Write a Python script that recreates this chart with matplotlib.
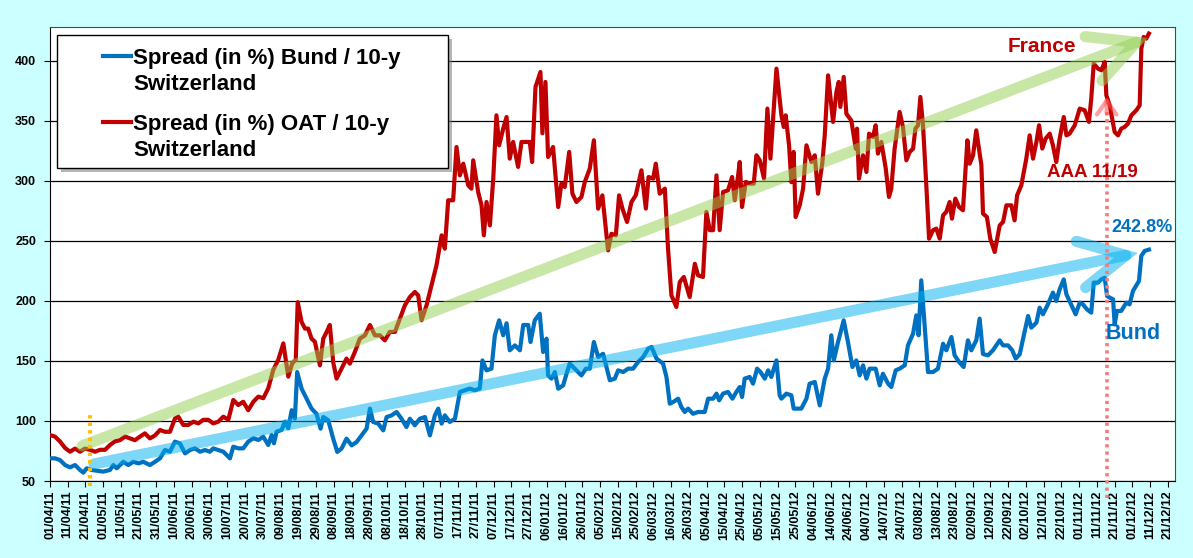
import numpy as np
import pandas as pd
import matplotlib
matplotlib.use("Agg")
import matplotlib.pyplot as plt
import matplotlib.dates as mdates
import matplotlib.transforms as mtransforms
from matplotlib.patches import FancyArrowPatch, Rectangle
from matplotlib.lines import Line2D

plt.rcParams["font.family"] = ["Liberation Sans", "DejaVu Sans"]

START = pd.Timestamp("2011-04-01")

# days since 01/04/11, spread values
oat_day = [0, 2.8, 5.6, 8.5, 11.3, 14.1, 16.9, 19.7, 22.5, 25.4, 28.2, 31, 33.8, 36.6, 39.4, 42.3,
           45.1, 47.9, 50.7, 53.5, 56.3, 59.2, 62, 64.8, 67.6, 70.4, 72.3, 75.1, 77.9, 80.8, 83.6,
           86.4, 89.2, 92, 94.8, 97.7, 100.5, 103.3, 106.1, 108.9, 111.7, 114.6, 117.4, 120.2, 123,
           125.8, 128.6, 131.5, 134.3, 136.5, 138.5, 139.6, 141.8, 143.7, 145.5, 147.4, 149.3, 152.1,
           154, 155.9, 157.7, 159.6, 161.5, 164.3, 167.1, 169, 171.8, 174.6, 177.5, 180.3, 183.1,
           185.9, 188.7, 191.5, 194.4, 197.2, 200, 202.8, 205.6, 207.5, 209.4, 212.2, 215, 217.8,
           220.7, 222.5, 224.4, 227.2, 229.1, 231, 232.9, 235.7, 237.5, 238.5, 241.3, 243.2, 244.5,
           246, 247.9, 249.8, 251.6, 253.1, 255.4, 257.3, 259.1, 261, 263.8, 265.7, 268.5, 270.4,
           271.7, 273.6, 276.4, 277.5, 279.2, 280.7, 283.5, 286.4, 288.2, 290.1, 292.6, 294.4,
           296.7, 299.5, 301.4, 304.2, 306.5, 308.9, 311.3, 314.5, 316.4, 318.9, 320.7, 322.6,
           325.2, 327.7, 330.1, 333.3, 335.8, 337.3, 339.9, 341.4, 343.6, 346.5, 348.3, 350.2, 353,
           354.9, 357.2, 360.5, 363.4, 365.2, 368, 369.9, 371.8, 373.7, 375.6, 377.4, 379.3, 382.1,
           384.4, 385.9, 387.8, 388.7, 390, 392.1, 394.3, 396.6, 398.1, 400, 402.4, 404.3, 406,
           409.4, 412.2, 413.5, 414.6, 416.5, 417.8, 419.1, 420.2, 422.5, 424.4, 426.3, 429.1, 431,
           432.8, 435.3, 436.6, 438.5, 441.3, 443.2, 444.5, 445.4, 447.3, 448.8, 451.6, 454.1,
           454.8, 455.9, 458.2, 460.1, 461.6, 463.8, 465.3, 466.6, 468.5, 471, 472.8, 474.1, 476,
           478.8, 480.7, 482.6, 484.5, 486.4, 487.7, 489.2, 490.5, 492, 493.9, 495.4, 497.6, 499.5,
           501.4, 503.3, 505.1, 507, 508.3, 510.2, 512.3, 514.5, 517, 518.3, 520.2, 522, 524.9,
           525.8, 528, 529.9, 532.4, 535.2, 537.1, 539, 541.8, 543.6, 545, 547.4, 550.2, 552.1, 554,
           555.9, 557.4, 559.2, 561.1, 563.4, 565.2, 567.1, 569, 571.3, 572.8, 574.6, 577.5, 580.3,
           583.1, 585.5, 586.8, 588.2, 590.6, 592.5, 594.4, 595.3, 597.2, 600, 601.9, 603.7, 605.6,
           607.5, 609.4, 612.2, 614.1, 615, 616.3, 617.8, 619.3]
oat_val = [88.3, 87, 83, 77.5, 74.4, 77, 74.4, 77, 76, 74.4, 76, 76, 80, 83, 84, 87, 85.5, 84, 87,
           89.7, 85.5, 88, 92.5, 91, 91, 102, 103.6, 96.7, 96.7, 99.4, 98, 101, 101, 98, 99.4, 103.6,
           101, 117.5, 113.3, 116, 109, 116, 120.3, 119, 127.2, 142.5, 150.8, 164.7, 137, 148, 151,
           199, 182.5, 177, 177, 168.6, 166, 146.4, 168.6, 174.2, 180, 149, 135.3, 143.6, 152, 147.8,
           157.5, 168.6, 171.4, 180, 171.4, 171.4, 167.2, 174.2, 174.2, 185.3, 196.4, 203.3, 207.5,
           204.7, 183.9, 196.4, 213, 229.7, 254.7, 243.6, 283.9, 283.9, 328.3, 304.7, 314.4, 296.4,
           293.6, 317.2, 290.8, 279.7, 254.7, 282.5, 263, 302, 354.7, 329.7, 343.6, 353.3, 318.6,
           332.5, 311.7, 332.5, 332.5, 332.5, 315.8, 378.3, 390.8, 339.7, 382.5, 320, 328.3, 278.3,
           297.8, 295, 324.2, 289.4, 282.5, 286.7, 299.2, 310.3, 333.9, 276.9, 288, 242.2, 256,
           254.7, 288, 277, 265.8, 282.5, 288, 308.9, 277, 303.3, 302, 314.4, 289.4, 293.6, 243.6,
           204.7, 195, 215.8, 220, 203.3, 231, 221.4, 220, 274.2, 259, 259, 304.7, 259, 290.8, 292.2,
           303.3, 283.9, 304.7, 315.8, 278.3, 299.2, 297.8, 297.8, 321.4, 317.2, 302, 360.3, 318.6,
           393.6, 354.7, 345, 354.7, 329.7, 299, 324.2, 270, 279.7, 293.6, 329.7, 315.8, 321.4,
           289.4, 315.8, 338, 388, 349.2, 374.2, 382.5, 361.7, 386.7, 356, 350.3, 326.9, 343.6,
           301.9, 321.4, 307.5, 339.4, 336.7, 346.4, 322.8, 332.5, 310.3, 286.7, 293.6, 326.9,
           357.5, 345, 317.2, 324.2, 326.9, 343.6, 346.4, 370, 346.4, 295, 251.9, 258.9, 260.3,
           251.9, 271.4, 274.2, 282.5, 268.6, 285.3, 278.3, 275.6, 333.9, 314.4, 321.4, 342.2, 313,
           272.8, 270, 251.9, 240.8, 263, 265.8, 279.7, 279.7, 267.2, 288, 296.4, 318.6, 338, 318.6,
           332.5, 346.4, 327, 335.3, 339.4, 329.7, 315.8, 335.3, 353.3, 338, 339.4, 346.4, 360.3,
           358.9, 349.2, 368.6, 397.8, 393.6, 392.2, 399.2, 371.4, 363, 340.8, 338, 343.6, 345,
           347.8, 354.7, 358.9, 363, 410, 420, 418.6, 422.8]

bund_day = [0, 2.8, 5.6, 8.5, 11.3, 14.1, 16.9, 18.8, 20.7, 23.5, 26.3, 30, 33.8, 35.7, 37.6, 41.3,
            44.1, 46.9, 49.8, 52.6, 56.3, 59.2, 62, 64.8, 67.6, 70.4, 73.2, 76.1, 78.9, 81.7, 84.5,
            87.3, 90.1, 92, 94.8, 97.7, 99.5, 101.4, 103.3, 106.1, 108.9, 111.7, 114.6, 117.4,
            120.2, 123, 124.9, 126.2, 127.7, 130.5, 132.4, 134.3, 136.2, 138, 139.3, 141.8, 144.6,
            147.4, 150.2, 152.5, 154, 156.8, 159.6, 161.9, 164.3, 167.1, 170, 172.8, 175.6, 178.4,
            180.3, 182.1, 185, 187.8, 189.7, 192.5, 195.3, 198.1, 200.9, 202.8, 205.6, 208.4, 211.3,
            214.1, 216.9, 218.8, 220.7, 222.5, 225.3, 228.2, 231, 233.8, 236.6, 239.4, 242.2, 243.7,
            246, 248.8, 250.7, 253.1, 255.4, 257.3, 259.1, 262, 264.8, 266.7, 269.5, 270.8, 273.2,
            276, 277.9, 279.8, 280.7, 282.6, 284.5, 286.4, 289.2, 291.1, 292.9, 296.7, 299.5, 302,
            304.2, 306.5, 308.9, 311.7, 315.5, 318.3, 320.2, 323, 325.8, 328.6, 331.4, 334.3, 337.1,
            339, 341.8, 345.5, 347.4, 349.3, 351.2, 354, 355.8, 357.7, 359.6, 362.4, 365.2, 369,
            370.9, 373.7, 375.6, 377.1, 379.3, 382.1, 384.6, 386.8, 388.7, 390, 391.5, 394.3, 396.2,
            398.5, 400.4, 402.8, 404.7, 406.5, 409.4, 411.2, 412.2, 415, 417.8, 419.1, 421.6, 423.4,
            426.3, 428.1, 431, 433.8, 436.6, 438.5, 440.3, 441.7, 444.1, 447.3, 449.7, 452.2, 454.4,
            456.3, 458.2, 460.1, 461.9, 465.3, 467.6, 469.4, 472.3, 474.1, 476.6, 478.8, 481.7,
            483.5, 486.4, 488.2, 489.5, 491, 492.5, 494.8, 497.6, 500.4, 503.3, 505.1, 508, 509.8,
            512.3, 514.9, 517.3, 519.2, 522, 523.9, 525.8, 528.6, 531.4, 535.2, 537.1, 539.9, 542.3,
            544.2, 546.5, 548.3, 551.2, 553, 555.9, 557.7, 559.6, 562.4, 565.2, 567.1, 569, 571.3,
            572.8, 575, 578, 580.3, 582.1, 584.4, 586.8, 588.2, 590.6, 592.5, 594.4, 595.7, 597.2,
            599.1, 600, 601.3, 603.7, 606.6, 608.4, 610.3, 613.7, 615, 616.9, 619.3]
bund_val = [68.9, 68.9, 67.5, 63.3, 61.4, 63.3, 59.2, 57, 60.6, 59.2, 58.6, 57.8, 59.2, 63.3, 60.6,
            66, 63.3, 66, 64.7, 66, 63.3, 66, 68.9, 75.8, 74.4, 82.8, 81.4, 73, 75.8, 77.2, 74.4,
            75.8, 74.4, 77.2, 75.8, 74.4, 71.7, 68.9, 78.6, 77.2, 77.2, 82.8, 85.6, 84.2, 86.9, 80,
            88.3, 81.4, 91.1, 92.5, 99.4, 93.9, 109, 102, 140.8, 126.9, 118.6, 110.3, 106, 93.6,
            103.3, 100.6, 85.3, 74.2, 77, 85.3, 79.7, 82.5, 88, 93.6, 110.3, 99.2, 97.8, 92.2, 103.3,
            104.7, 107.5, 101.9, 95, 101.9, 96.4, 101.9, 103.3, 88, 104.7, 110.3, 97.8, 104.7, 99.2,
            101.9, 124.2, 125.6, 127, 125.6, 127, 150.5, 142.2, 143.6, 171.4, 183.9, 171.4, 181.4,
            158.9, 163, 158.9, 180, 180, 165.8, 183.9, 189.4, 157.5, 168.6, 138, 135.3, 140.8, 126.9,
            129.7, 139.4, 147.8, 142.2, 138, 143.6, 143.6, 165.8, 153.3, 156, 133.9, 135.3, 142.2,
            140.8, 143.6, 143.6, 149.2, 153.3, 160.3, 161.7, 152, 147.8, 136.7, 114.4, 115.8, 118.6,
            111.7, 107.5, 110.3, 106, 107.5, 107.5, 118.6, 118.6, 122.8, 117.2, 122.8, 124.2, 118.6,
            124.2, 128.3, 120, 135.3, 136.7, 131.1, 143.6, 140.8, 135.3, 142.2, 136.7, 150.5, 121.4,
            118.6, 122.8, 121.4, 110.3, 110.3, 110.3, 118.6, 131.1, 132.5, 113, 135.3, 143.6, 171.4,
            150.5, 165.8, 183.9, 165.8, 145, 150.5, 138, 146.4, 135.3, 143.6, 143.6, 129.7, 139.4,
            131.1, 128.3, 142.2, 143.6, 146.4, 163, 172.8, 188, 171.4, 217.2, 188, 140.8, 140.8,
            143.6, 164.4, 158.9, 170, 154.7, 149.2, 145, 167.2, 158.9, 167.2, 185.3, 155.8, 154.7,
            158.9, 167.2, 163, 163, 158.9, 152, 155.6, 168, 187.5, 177.8, 181.9, 194.4, 188.9, 197.2,
            207, 200, 209.7, 218, 205.6, 198.6, 188.9, 198.6, 197.2, 193, 190.3, 215.3, 215.3, 218,
            219.4, 204.2, 202.8, 201.4, 180.6, 191.7, 191.7, 198.6, 197.2, 208.3, 216.7, 237.5,
            241.7, 242.8]

series_labels = ["Spread (in %) Bund / 10-y\nSwitzerland", "Spread (in %) OAT / 10-y\nSwitzerland"]
tick_dates = pd.date_range("2011-04-01", "2012-12-21", freq="10D")
tick_labels = list(tick_dates.strftime("%d/%m/%y"))
y_ticks = [50, 100, 150, 200, 250, 300, 350, 400]

BLUE, RED = "#0070C0", "#C00000"
W, H = 1193, 558

fig = plt.figure(figsize=(W / 100, H / 100), dpi=100, facecolor="#CCFFFF")
ax = fig.add_axes([50 / W, 1 - 481 / H, 1125 / W, 454 / H])
ax.set_facecolor("white")


def to_x(days):
    return mdates.date2num(START + pd.to_timedelta(np.asarray(days), unit="D"))


ax.plot(to_x(bund_day), bund_val, color=BLUE, lw=3, solid_joinstyle="round", zorder=3)
ax.plot(to_x(oat_day), oat_val, color=RED, lw=3, solid_joinstyle="round", zorder=3)

ax.set_xlim(to_x(0), to_x(634))
ax.set_ylim(50, 428.3)

ax.set_yticks(y_ticks)
ax.set_yticklabels([str(v) for v in y_ticks], fontsize=9, fontweight="bold")
ax.set_xticks(to_x((tick_dates - START).days))
ax.set_xticklabels(tick_labels, rotation=90, fontsize=9, fontweight="bold")
ax.tick_params(axis="y", length=4, pad=6, color="black")
ax.tick_params(axis="x", length=4, pad=3, color="black")
ax.yaxis.grid(True, color="black", lw=0.9)
ax.set_axisbelow(True)
for side in ("top", "right"):
    ax.spines[side].set_color("#007A00")
for side in ("left", "bottom"):
    ax.spines[side].set_color("black")


# translucent trend arrows
def trend_arrow(d0, v0, d1, v1, color):
    arr = FancyArrowPatch((to_x(d0), v0), (to_x(d1), v1),
                          arrowstyle="->, head_length=33, head_width=17",
                          mutation_scale=1, lw=8, color=color, alpha=0.5,
                          shrinkA=0, shrinkB=0, zorder=4, joinstyle="miter")
    ax.add_patch(arr)


trend_arrow(18, 79.2, 618.6, 419.2, "#92D050")
trend_arrow(24.8, 64.2, 613, 240, "#00B0F0")

# event markers
ax.plot([to_x(22.5)] * 2, [45.5, 107.5], color="#FFC000", lw=3, ls=(0, (0.8, 1.0)),
        dash_capstyle="butt", clip_on=False, zorder=5)
ax.plot([to_x(595.5)] * 2, [35.5, 358], color="#F47C7C", lw=2.6, ls=(0, (0.9, 1.1)),
        dash_capstyle="butt", clip_on=False, zorder=5)
ax.add_patch(FancyArrowPatch((to_x(595.5), 356), (to_x(595.5), 370),
                             arrowstyle="->, head_length=10, head_width=7", mutation_scale=1,
                             lw=3, color="#FF5050", alpha=0.55, shrinkA=0, shrinkB=0, zorder=5))

ax.text(to_x(539.7), 411.7, "France", color=RED, fontsize=15, fontweight="bold",
        va="center", ha="left", zorder=6)
ax.text(to_x(562), 306.7, "AAA 11/19", color=RED, fontsize=13.5, fontweight="bold",
        va="center", ha="left", zorder=6)
ax.text(to_x(598.3), 261, "242.8%", color=BLUE, fontsize=13, fontweight="bold",
        va="center", ha="left", zorder=6)
ax.text(to_x(595), 173.3, "Bund", color=BLUE, fontsize=15.5, fontweight="bold",
        va="center", ha="left", zorder=6)

# legend box (drawn in figure pixels, top-left origin)
tf = mtransforms.Affine2D().scale(1 / W, -1 / H).translate(0, 1) + fig.transFigure
fig.patches.append(Rectangle((61, 39), 391, 133, transform=tf, facecolor="#7a7a7a",
                             alpha=0.55, edgecolor="none", zorder=7))
fig.patches.append(Rectangle((57, 35), 391, 133, transform=tf, facecolor="white",
                             edgecolor="black", lw=1, zorder=8))
for color, label, y_line in zip([BLUE, RED], series_labels, [56, 122]):
    fig.lines.append(Line2D([103, 131], [y_line, y_line], transform=tf, color=color,
                            lw=3, zorder=9))
    first, second = label.split("\n")
    fig.text(133, y_line + 8, first, transform=tf, fontsize=16, fontweight="bold",
             va="baseline", ha="left", zorder=9)
    fig.text(133, y_line + 34, second, transform=tf, fontsize=16, fontweight="bold",
             va="baseline", ha="left", zorder=9)

fig.savefig("out.png", dpi=100, facecolor=fig.get_facecolor())
